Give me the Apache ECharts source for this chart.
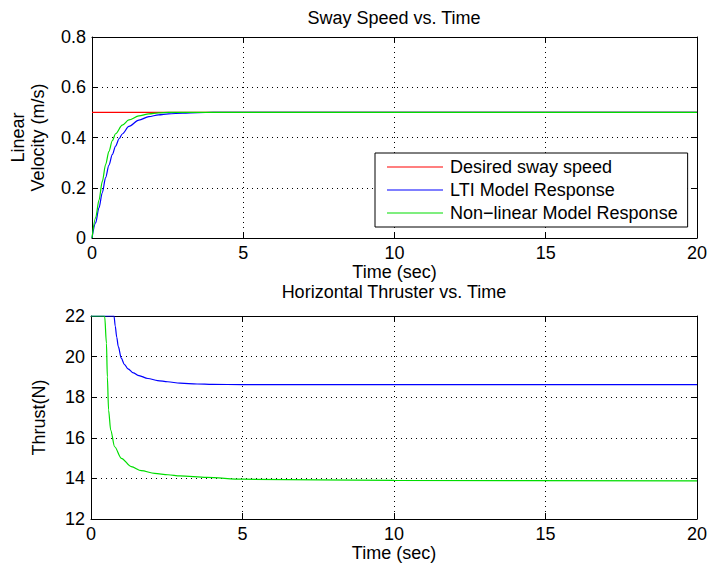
<!DOCTYPE html>
<html>
<head>
<meta charset="utf-8">
<style>
  html, body { margin: 0; padding: 0; background: #fff; }
  #chart { width: 710px; height: 570px; }
</style>
<script src="https://cdn.jsdelivr.net/npm/echarts@6/dist/echarts.min.js"></script>
</head>
<body>
<div id="chart"></div>
<script>
(function() {
  // --- data ---
  var timeTicks = [0, 5, 10, 15, 20];

  var desiredT = [0, 20];
  var desiredV = [0.5, 0.5];

  var ltiT = [0, 0.12, 0.23, 0.34, 0.45, 0.56, 0.67, 0.78, 0.9, 1.0, 1.22, 1.55, 1.88, 2.2, 2.53, 3, 3.5, 4, 5, 10, 20];
  var ltiV = [0, 0.06, 0.12, 0.18, 0.24, 0.29, 0.332, 0.366, 0.396, 0.414, 0.444, 0.469, 0.483, 0.49, 0.494, 0.497, 0.499, 0.5, 0.5, 0.5, 0.5];

  var nlT = [0, 0.12, 0.23, 0.34, 0.45, 0.56, 0.67, 0.78, 1.0, 1.22, 1.55, 1.88, 2.2, 2.53, 3, 4, 20];
  var nlV = [0, 0.08, 0.15, 0.225, 0.292, 0.345, 0.387, 0.415, 0.449, 0.47, 0.486, 0.494, 0.498, 0.5, 0.5, 0.5, 0.5];

  var ltiThrustT = [0, 0.76, 0.8, 0.85, 0.9, 1.0, 1.1, 1.22, 1.4, 1.55, 1.88, 2.2, 2.53, 2.94, 3.5, 4, 5, 10, 20];
  var ltiThrustV = [22, 22, 21.5, 20.95, 20.5, 19.92, 19.62, 19.4, 19.2, 19.08, 18.92, 18.82, 18.76, 18.69, 18.65, 18.63, 18.62, 18.62, 18.62];

  var nlThrustT = [0, 0.45, 0.51, 0.54, 0.58, 0.65, 0.78, 1.0, 1.33, 1.66, 2.1, 2.54, 2.94, 3.82, 5, 10, 20];
  var nlThrustV = [22, 22, 20.65, 19.0, 17.37, 16.38, 15.56, 14.99, 14.58, 14.38, 14.25, 14.18, 14.12, 14.05, 13.96, 13.9, 13.88];

  var names = ['Desired sway speed', 'LTI Model Response', 'Non\u2212linear Model Response'];

  function pairs(xs, ys) {
    return xs.map(function(x, i) { return [x, ys[i]]; });
  }

  var font = "'Liberation Sans', Arial, sans-serif";
  var ink = '#000';
  var red = '#ff0000', blue = '#0000ff', green = '#00dd00';

  var gridLine = { show: true, lineStyle: { color: '#000', type: [1, 4], width: 1 } };

  function xAxisPair(gi) {
    return [
      {
        gridIndex: gi, type: 'value', min: 0, max: 20, interval: 5, position: 'bottom',
        name: 'Time (sec)', nameLocation: 'middle', nameGap: 24,
        nameTextStyle: { color: ink, fontSize: 18, fontFamily: font },
        axisLine: { onZero: false, lineStyle: { color: ink, width: 1 } },
        axisTick: { inside: true, length: 6, lineStyle: { color: ink } },
        axisLabel: { color: ink, fontSize: 18, fontFamily: font, margin: 6 },
        splitLine: gridLine
      },
      {
        gridIndex: gi, type: 'value', min: 0, max: 20, interval: 5, position: 'top',
        axisLine: { onZero: false, lineStyle: { color: ink, width: 1 } },
        axisTick: { inside: true, length: 6, lineStyle: { color: ink } },
        axisLabel: { show: false },
        splitLine: { show: false }
      }
    ];
  }

  function yAxisPair(gi, min, max, step, name, gap) {
    return [
      {
        gridIndex: gi, type: 'value', min: min, max: max, interval: step, position: 'left',
        name: name, nameLocation: 'middle', nameGap: gap, nameRotate: 90,
        nameTextStyle: { color: ink, fontSize: 18, fontFamily: font, lineHeight: 20 },
        axisLine: { show: true, onZero: false, lineStyle: { color: ink, width: 1 } },
        axisTick: { show: true, inside: true, length: 6, lineStyle: { color: ink } },
        axisLabel: { color: ink, fontSize: 18, fontFamily: font, margin: 6 },
        splitLine: gridLine
      },
      {
        gridIndex: gi, type: 'value', min: min, max: max, interval: step, position: 'right',
        axisLine: { show: true, onZero: false, lineStyle: { color: ink, width: 1 } },
        axisTick: { show: true, inside: true, length: 6, lineStyle: { color: ink } },
        axisLabel: { show: false },
        splitLine: { show: false }
      }
    ];
  }

  function line(name, color, data, xi, yi) {
    return {
      name: name, type: 'line', xAxisIndex: xi, yAxisIndex: yi,
      data: data, symbol: 'none', smooth: 0.3, smoothMonotone: 'x',
      lineStyle: { color: color, width: 1.2 }, itemStyle: { color: color },
      clip: true
    };
  }

  var chart = echarts.init(document.getElementById('chart'), null, { renderer: 'svg' });
  chart.setOption({
    animation: false,
    backgroundColor: '#fff',
    title: [
      { text: 'Sway Speed vs. Time', left: 394, textAlign: 'center', top: 9, padding: 0,
        textStyle: { color: ink, fontSize: 18, fontWeight: 'normal', fontFamily: font } },
      { text: 'Horizontal Thruster vs. Time', left: 394, textAlign: 'center', top: 283, padding: 0,
        textStyle: { color: ink, fontSize: 18, fontWeight: 'normal', fontFamily: font } }
    ],
    grid: [
      { left: 91, right: 13, top: 37, height: 201 },
      { left: 91, right: 13, top: 316, height: 203 }
    ],
    legend: {
      data: names,
      orient: 'vertical',
      left: 375, top: 153,
      padding: [4, 10, 4, 12],
      itemWidth: 56, itemHeight: 1, itemGap: 3,
      icon: 'rect',
      backgroundColor: '#fff',
      borderColor: ink, borderWidth: 1, borderRadius: 0,
      textStyle: { color: ink, fontSize: 18, fontFamily: font, lineHeight: 20, padding: [0, 0, 0, 2] }
    },
    xAxis: xAxisPair(0).concat(xAxisPair(1)),
    yAxis: yAxisPair(0, 0, 0.8, 0.2, 'Linear\nVelocity (m/s)', 44)
      .concat(yAxisPair(1, 12, 22, 2, 'Thrust(N)', 42)),
    series: [
      line(names[0], red, pairs(desiredT, desiredV), 0, 0),
      line(names[1], blue, pairs(ltiT, ltiV), 0, 0),
      line(names[2], green, pairs(nlT, nlV), 0, 0),
      line('LTI thrust', blue, pairs(ltiThrustT, ltiThrustV), 2, 2),
      line('Non-linear thrust', green, pairs(nlThrustT, nlThrustV), 2, 2)
    ]
  });
  window.addEventListener('resize', function() { chart.resize(); });
})();
</script>
</body>
</html>
